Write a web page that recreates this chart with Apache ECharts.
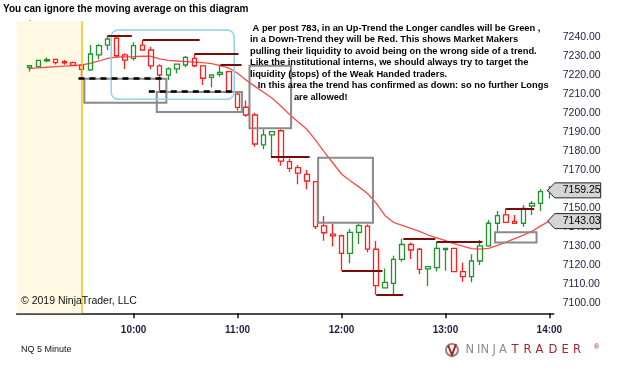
<!DOCTYPE html>
<html>
<head>
<meta charset="utf-8">
<script src="https://cdn.jsdelivr.net/npm/echarts@6/dist/echarts.min.js"></script>
<style>
html,body{margin:0;padding:0;background:#fff;}
#main{width:625px;height:386px;}
</style>
</head>
<body>
<div id="main"></div>
<script>
// NQ 5 minute bars
var times = ['9:00','9:05','9:10','9:15','9:20','9:25','9:30','9:35','9:40','9:45','9:50','9:55',
  '10:00','10:05','10:10','10:15','10:20','10:25','10:30','10:35','10:40','10:45','10:50','10:55',
  '11:00','11:05','11:10','11:15','11:20','11:25','11:30','11:35','11:40','11:45','11:50','11:55',
  '12:00','12:05','12:10','12:15','12:20','12:25','12:30','12:35','12:40','12:45','12:50','12:55',
  '13:00','13:05','13:10','13:15','13:20','13:25','13:30','13:35','13:40','13:45','13:50','13:55',
  '14:00'];
var opens = [7224.0,7224.5,7227.6,7228.4,7227.2,7226.6,7225.3,7222.8,7230.7,7235.9,
  7239.5,7230.7,7228.9,7235.9,7233.3,7224.9,7220.1,7223.3,7225.4,7228.9,
  7224.9,7218.9,7220.5,7221.9,7210.0,7203.1,7199.0,7183.2,7188.5,7190.7,
  7174.4,7171.2,7167.7,7163.9,7140.5,7136.2,7135.3,7126.0,7137.1,7140.4,
  7128.2,7107.8,7110.2,7122.9,7130.7,7128.2,7117.8,7118.5,7128.0,7128.7,
  7116.4,7113.7,7122.0,7130.0,7141.9,7146.3,7142.9,7141.9,7151.0,7152.4,
  7159.0];
var closes = [7225.0,7227.8,7228.2,7226.6,7226.5,7225.2,7223.1,7231.2,7235.6,7239.1,
  7230.3,7228.0,7235.6,7233.3,7224.9,7220.1,7223.3,7225.8,7229.4,7225.0,
  7218.4,7220.1,7221.5,7211.3,7203.0,7199.0,7183.7,7188.5,7190.2,7174.7,
  7170.9,7168.3,7164.2,7140.1,7136.9,7135.2,7126.0,7137.1,7140.7,7128.3,
  7109.0,7110.7,7122.9,7130.7,7127.8,7117.6,7119.0,7128.7,7128.7,7116.4,
  7113.7,7122.0,7130.0,7141.9,7145.9,7142.4,7141.9,7149.8,7152.4,7158.6,
  7159.25];
var lows = [7222.0,7224.3,7226.8,7225.6,7225.5,7225.0,7218.2,7222.2,7228.4,7233.3,
  7229.4,7223.3,7227.7,7233.0,7223.1,7211.8,7217.5,7221.0,7224.2,7224.2,
  7214.8,7213.6,7219.2,7210.5,7201.3,7198.1,7182.3,7181.0,7177.0,7172.3,
  7169.0,7162.5,7159.8,7138.9,7132.7,7129.6,7116.9,7120.8,7131.0,7126.6,
  7104.2,7107.5,7104.2,7121.6,7123.0,7115.0,7108.8,7116.4,7116.9,7116.2,
  7111.1,7110.8,7119.9,7129.5,7137.8,7142.0,7141.5,7140.1,7146.3,7148.4,
  7155.0];
var highs = [7225.3,7228.0,7229.3,7228.6,7228.0,7227.3,7225.5,7236.0,7236.3,7240.8,
  7240.0,7231.6,7237.4,7238.6,7235.0,7225.8,7224.2,7226.0,7230.1,7231.2,
  7225.2,7220.5,7225.6,7222.4,7211.3,7206.6,7200.2,7191.5,7190.5,7191.5,
  7176.0,7172.6,7170.0,7164.0,7145.7,7141.5,7136.0,7138.9,7141.6,7141.3,
  7132.5,7118.0,7124.7,7133.7,7131.8,7128.8,7119.3,7132.1,7128.9,7129.0,
  7121.1,7125.5,7133.1,7143.6,7148.4,7149.8,7146.3,7151.5,7153.6,7160.0,
  7161.5];
// moving average
var ma = [7223.6,7223.9,7224.2,7224.5,7224.8,7225.1,7225.4,7226.2,7227.5,7228.9,
  7229.6,7229.7,7229.8,7230.0,7230.0,7228.6,7227.8,7227.5,7227.2,7226.9,
  7226.6,7226.1,7225.0,7223.8,7221.0,7217.4,7214.1,7211.0,7207.8,7203.8,
  7199.3,7195.3,7191.5,7185.8,7179.6,7173.7,7167.9,7164.3,7161.1,7157.6,
  7152.5,7146.0,7142.4,7140.8,7139.2,7137.6,7135.7,7134.2,7132.7,7131.2,
  7129.8,7128.5,7128.3,7128.6,7130.2,7132.0,7133.8,7135.6,7137.6,7140.5,
  7143.03];
var tickLabels = ['10:00','11:00','12:00','13:00','14:00'];
var priceTicks = [7100,7110,7120,7130,7140,7150,7160,7170,7180,7190,7200,7210,7220,7230,7240];

// drawings: [fromBar, toBar, price] and boxes [fromBar, toBar, top, bottom]
var levelLines = [[8.98,11.79,7240.8],[13.05,19.62,7238.6],[19.03,24.11,7231.2],[22.03,24.46,7225.6],
  [27.86,32.32,7176.9],[36.04,40.73,7116.8],[40.01,43.12,7104.2],[43.14,46.83,7133.7],
  [46.99,52.27,7132.3],[55.0,58.25,7149.8]];
var dashLines = [[5.63,15.78,7218.2],[13.75,23.32,7211.8]];
var grayBoxes = [[6.31,15.78,7218.2,7205.5],[14.67,24.5,7211.1,7200.6],[25.38,30.18,7225.0,7192.0],
  [33.3,39.63,7176.5,7142.2],[53.73,58.52,7137.1,7131.8]];
var blueBoxes = [[9.41,23.61,7243.9,7207.3]];
var sessionOpen = '9:30';

var last = times.length - 1;
var tickPos = tickLabels.map(function(t){ return times.indexOf(t); });
var candleData = opens.map(function(o, i){ return [i, o, closes[i], lows[i], highs[i]]; });
var maData = ma.map(function(v, i){ return [i, v]; });
var tagData = [[last, closes[last]], [last, ma[last]]];
var openIdx = times.indexOf(sessionOpen);

var font = 'Liberation Sans, Arial, sans-serif';
var noteText = ' A per post 783, in an Up-Trend the Longer candles will be Green ,\n' +
  'in a Down-Trend they will be Red. This shows Market Makers\n' +
  'pulling their liquidity to avoid being on the wrong side of a trend.\n' +
  'Like the institutional interns, we should always try to target the\n' +
  'liquidity (stops) of the Weak Handed traders.\n' +
  '   In this area the trend has confirmed as down: so no further Longs\n' +
  '                 are allowed!';

function boxItem(stroke, width, r){
  return function(params, api){
    var p1 = api.coord([api.value(0), api.value(2)]);
    var p2 = api.coord([api.value(1), api.value(3)]);
    return {type:'rect', shape:{x:p1[0], y:p1[1], width:p2[0]-p1[0], height:p2[1]-p1[1], r:r},
      style:{fill:'none', stroke:stroke, lineWidth:width}};
  };
}

// logo letters
var logo = [];
var letters = 'NINJATRADER';
var letterX = [465.5,477,480.5,492.5,499,511.5,523.5,535.5,548.5,561.5,573];
for (var i = 0; i < letters.length; i++) {
  logo.push({type:'text', z:100, left:letterX[i], top:344,
    style:{text:letters[i], font:'11.5px DejaVu Sans', fill: i < 5 ? '#8c8c8c' : '#a3252c'}});
}

var myChart = echarts.init(document.getElementById('main'));
var option = {
  animation: false,
  backgroundColor: '#fff',
  grid: {left: 16.7, right: 71.3, top: 21, bottom: 72.7},
  xAxis: {
    type: 'value', min: -1.5, max: last + 0.5,
    splitLine: {show: false},
    axisLine: {lineStyle: {color: '#111', width: 1.5}},
    axisTick: {customValues: tickPos, length: 5, lineStyle: {color: '#111', width: 1.5}},
    axisLabel: {customValues: tickPos, formatter: function(v){ return times[v]; },
      color: '#1b1f45', fontWeight: 'bold', fontSize: 10, fontFamily: font, margin: 12}
  },
  yAxis: {
    type: 'value', position: 'right', min: 7094.4, max: 7248.6,
    splitLine: {show: false},
    axisLine: {show: true, lineStyle: {color: '#555', width: 1.5}},
    axisTick: {show: true, customValues: priceTicks, length: 4, lineStyle: {color: '#555'}},
    axisLabel: {customValues: priceTicks, formatter: function(v){ return v.toFixed(2); },
      color: '#1b1f45', fontSize: 10.5, fontFamily: font, margin: 9}
  },
  series: [
    {
      name: 'MA', type: 'line', z: 2, data: maData, showSymbol: false, silent: true,
      lineStyle: {color: '#ff4a4a', width: 1.3},
      markArea: {silent: true, itemStyle: {color: '#fff9e4'},
        data: [[{xAxis: -1.5}, {xAxis: openIdx}]]},
      markLine: {silent: true, symbol: 'none', label: {show: false},
        data: [{xAxis: openIdx, lineStyle: {color: '#f2c21b', width: 1.5, type: 'solid'}}].concat(
          dashLines.map(function(l){
            return [{coord: [l[0], l[2]], lineStyle: {color: '#000', width: 2.5, type: [6, 5]}}, {coord: [l[1], l[2]]}];
          }))}
    },
    {
      name: 'NQ', type: 'candlestick', z: 3, data: candleData, barWidth: 5, silent: true,
      itemStyle: {color: 'rgba(0,0,0,0)', color0: 'rgba(0,0,0,0)',
        borderColor: '#22922a', borderColor0: '#ff1f1f', borderWidth: 1.3},
      markLine: {silent: true, symbol: 'none', label: {show: false},
        lineStyle: {color: '#7a0b0b', width: 2, type: 'solid'},
        data: levelLines.map(function(l){ return [{coord: [l[0], l[2]]}, {coord: [l[1], l[2]]}]; })}
    },
    {type: 'custom', z: 4, silent: true, data: grayBoxes, encode: {x: [0, 1], y: [2, 3]},
      renderItem: boxItem('#8a8a8a', 2, 0)},
    {type: 'custom', z: 4, silent: true, data: blueBoxes, encode: {x: [0, 1], y: [2, 3]},
      renderItem: boxItem('#8dd3ea', 1.5, 7)},
    {
      type: 'custom', z: 10, silent: true, clip: false, data: tagData, encode: {x: 0, y: 1},
      renderItem: function(params, api){
        var x = params.coordSys.x + params.coordSys.width;
        var y = api.coord([api.value(0), api.value(1)])[1];
        return {type: 'group', children: [
          {type: 'polygon', shape: {points: [[x-6,y],[x+1,y-7.5],[x+47,y-7.5],[x+47,y+7.5],[x+1,y+7.5]]},
            style: {fill: '#d5d5d5', stroke: '#222', lineWidth: 1}},
          {type: 'text', x: x + 9, y: y, style: {text: api.value(1).toFixed(2), font: '10.5px ' + font,
            fill: '#000', verticalAlign: 'middle'}}
        ]};
      }
    }
  ],
  graphic: [
    {type: 'text', z: 100, left: 3, top: 4, style: {text: 'You can ignore the moving average on this diagram',
      font: 'bold 10px ' + font, fill: '#000'}},
    {type: 'text', z: 100, left: 250, top: 22.5, style: {text: noteText, font: 'bold 9.3px ' + font,
      lineHeight: 11.5, fill: '#000'}},
    {type: 'text', z: 100, left: 21, top: 295.5, style: {text: '\u00a9 2019 NinjaTrader, LLC', font: '10.5px ' + font, fill: '#111'}},
    {type: 'text', z: 100, left: 21, top: 345.5, style: {text: 'NQ 5 Minute', font: '9px ' + font, fill: '#111'}},
    {type: 'circle', z: 100, shape: {cx: 452, cy: 350, r: 6}, style: {fill: 'none', stroke: '#9a8476', lineWidth: 2}},
    {type: 'polyline', z: 100, shape: {points: [[448,345],[452,355],[456,344]]}, style: {stroke: '#a3252c', lineWidth: 2, fill: 'none'}},
    {type: 'text', z: 100, left: 594, top: 344, style: {text: '\u00ae', font: '7px ' + font, fill: '#a3252c'}}
  ].concat(logo)
};
myChart.setOption(option);
</script>
</body>
</html>
